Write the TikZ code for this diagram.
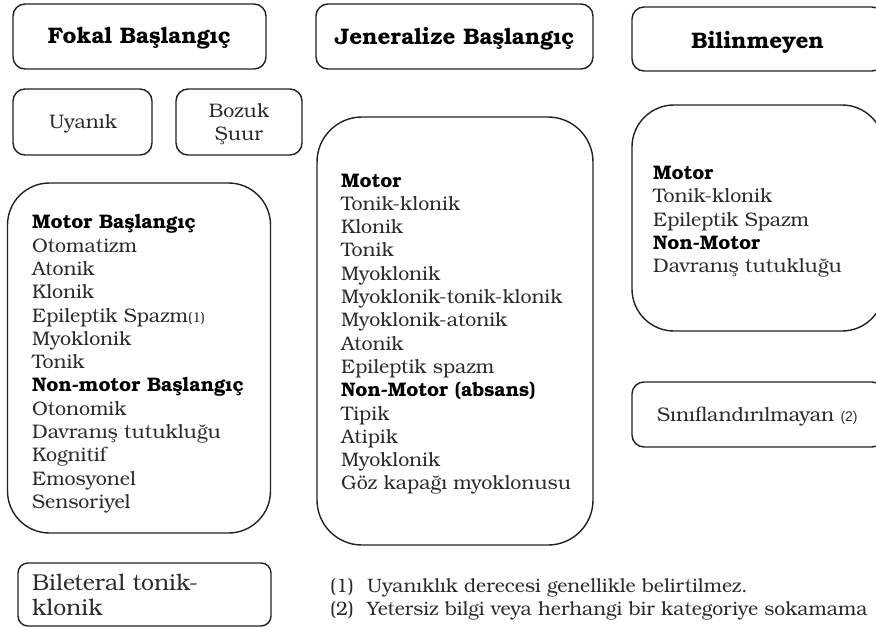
\documentclass[tikz,border=0pt]{standalone}
\usepackage{fontspec}
\setmainfont{TeX Gyre Bonum}
\newfontfamily\smallsans{Liberation Sans}
\definecolor{ink}{HTML}{222222}
\definecolor{txt}{HTML}{2b2b2b}
\newcommand\listhead[1]{\textcolor{black}{\bfseries #1}}
\tikzset{
  box/.style={draw=ink, line width=1.4pt, rounded corners=12pt, inner sep=0pt},
  bigbox/.style={box, rounded corners=42pt},
  head/.style={font=\fontsize{22.5}{26}\selectfont\bfseries, text=black, inner sep=0pt},
  lst/.style={font=\fontsize{19.6}{23.3}\selectfont, text=txt, align=left, anchor=north west, inner sep=0pt},
  plain/.style={font=\fontsize{19.6}{23}\selectfont, text=txt, align=center, inner sep=0pt},
  note/.style={font=\fontsize{19.4}{23}\selectfont, text=txt, anchor=base west, inner sep=0pt},
}
\begin{document}
\begin{tikzpicture}[x=1pt,y=-1pt]
\useasboundingbox (0,0) rectangle (876,627);
\clip (0,0) rectangle (876,627);
\fill[white] (0,0) rectangle (876,627);

% headers
\node[box, minimum width=253pt, minimum height=65pt] (fokalh) at (139.5,36.5) {};
\node[head] (fokalt) at (139.5,38.5) {Fokal Başlangıç};
\node[box, minimum width=277pt, minimum height=65pt] (jenh) at (454.5,36.5) {};
\node[head] (jent) at (454.7,38.5) {Jeneralize Başlangıç};
\node[box, minimum width=252pt, minimum height=64pt] (bilh) at (758,39) {};
\node[head] (bilt) at (757.7,42) {Bilinmeyen};

% awareness
\node[box, minimum width=139pt, minimum height=66pt] (uyanik) at (82.5,122) {};
\node[plain] (uyanikt) at (83,124) {Uyanık};
\node[box, minimum width=126pt, minimum height=66pt] (bozuk) at (239,122) {};
\node[plain] (bozukt) at (239,124) {Bozuk\\Şuur};

% big boxes
\node[bigbox, minimum width=263pt, minimum height=350pt] (fokal) at (139,358) {};
\node[lst] (fokall) at (32,214.5) {\listhead{Motor Başlangıç}\\
Otomatizm\\Atonik\\Klonik\\Epileptik Spazm{\fontsize{14}{14}\selectfont(1)}\\Myoklonik\\Tonik\\
\listhead{Non-motor Başlangıç}\\Otonomik\\Davranış tutukluğu\\Kognitif\\Emosyonel\\Sensoriyel};

\node[bigbox, rounded corners=45pt, minimum width=276pt, minimum height=428pt] (jen) at (455,331) {};
\node[lst] (jenl) at (341,173.5) {\listhead{Motor}\\Tonik-klonik\\Klonik\\Tonik\\Myoklonik\\
Myoklonik-tonik-klonik\\Myoklonik-atonik\\Atonik\\Epileptik spazm\\
\listhead{Non-Motor (absans)}\\Tipik\\Atipik\\Myoklonik\\Göz kapağı myoklonusu};

\node[bigbox, minimum width=252pt, minimum height=226pt] (bil) at (758,218) {};
\node[lst] (bill) at (653,166) {\listhead{Motor}\\Tonik-klonik\\Epileptik Spazm\\
\listhead{Non-Motor}\\Davranış tutukluğu};

\node[box, minimum width=252pt, minimum height=65pt] (sinif) at (758,414.5) {};
\node[plain, anchor=west, font=\fontsize{19.7}{23}\selectfont] (sinift) at (657,416.5) {Sınıflandırılmayan {\smallsans\fontsize{14}{14}\selectfont(2)}};

% bilateral
\node[box, rounded corners=10pt, minimum width=253pt, minimum height=63pt] (bilat) at (144.5,594.5) {};
\node[lst, font=\fontsize{23}{25}\selectfont] (bilatt) at (32,574) {Bileteral tonik-\\klonik};

% notes
\node[note] (n1) at (330,592.5) {(1)};
\node[note] (n1t) at (367,592.5) {Uyanıklık derecesi genellikle belirtilmez.};
\node[note] (n2) at (330,615.5) {(2)};
\node[note] (n2t) at (367,615.5) {Yetersiz bilgi veya herhangi bir kategoriye sokamama};
\end{tikzpicture}
\end{document}
